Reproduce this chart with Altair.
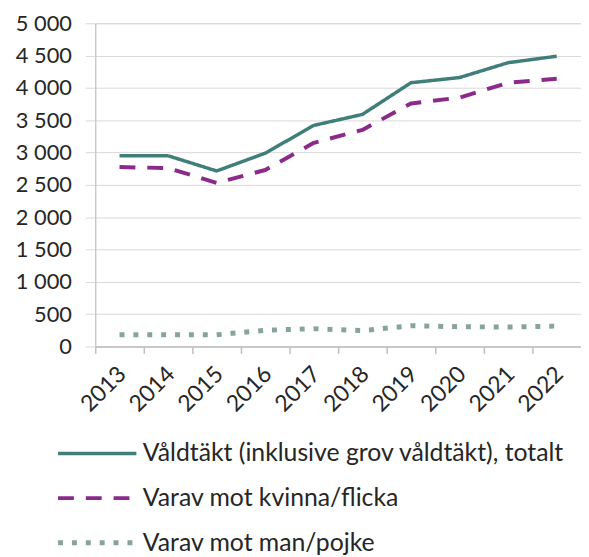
import altair as alt
import pandas as pd

years = ["2013", "2014", "2015", "2016", "2017", "2018", "2019", "2020", "2021", "2022"]
total = [2950, 2950, 2715, 2990, 3420, 3590, 4080, 4160, 4390, 4490]
female = [2775, 2760, 2530, 2730, 3150, 3350, 3760, 3850, 4080, 4140]
male = [180, 180, 180, 250, 275, 245, 320, 305, 300, 315]

series_names = [
    "Våldtäkt (inklusive grov våldtäkt), totalt",
    "Varav mot kvinna/flicka",
    "Varav mot man/pojke",
]
series_values = [total, female, male]
colors = ["#3f7e79", "#8b2a8b", "#86a497"]
dashes = [[1, 0], [16, 12], [5, 9]]
widths = [3.5, 4, 5]

rows = []
for name, vals in zip(series_names, series_values):
    for y, v in zip(years, vals):
        rows.append({"year": y, "value": v, "series": name})
df = pd.DataFrame(rows)

FONT = "Lato"
TXT = "#262626"

legend = alt.Legend(
    title=None,
    orient="none",
    legendX=-40,
    legendY=421,
    direction="vertical",
    symbolType="stroke",
    symbolSize=6241,
    clipHeight=26,
    rowPadding=19,
    labelFont=FONT,
    labelFontSize=25,
    labelColor=TXT,
    labelOffset=4,
    labelLimit=600,
    padding=0,
)

chart = (
    alt.Chart(df)
    .mark_line(strokeJoin="round")
    .encode(
        x=alt.X(
            "year:O",
            title=None,
            scale=alt.Scale(padding=0.5),
            axis=alt.Axis(
                labelAngle=-45,
                labelAlign="right",
                labelBaseline="middle",
                labelFont=FONT,
                labelFontSize=23,
                labelColor=TXT,
                labelPadding=17,
                tickSize=7,
                tickOffset=-24.5,
                labelOffset=27,
                tickColor="#bfbfbf",
                tickWidth=1.5,
                domainColor="#bfbfbf",
                domainWidth=1.5,
                grid=False,
            ),
        ),
        y=alt.Y(
            "value:Q",
            title=None,
            scale=alt.Scale(domain=[0, 5000]),
            axis=alt.Axis(
                values=[0, 500, 1000, 1500, 2000, 2500, 3000, 3500, 4000, 4500, 5000],
                labelExpr="replace(format(datum.value, ','), ',', ' ')",
                labelFont=FONT,
                labelFontSize=22,
                labelColor=TXT,
                labelPadding=14,
                tickSize=10,
                tickColor="#d9d9d9",
                domainColor="#bfbfbf",
                gridColor="#d9d9d9",
                gridWidth=1,
            ),
        ),
        color=alt.Color(
            "series:N",
            scale=alt.Scale(domain=series_names, range=colors),
            sort=series_names,
            legend=legend,
        ),
        strokeDash=alt.StrokeDash(
            "series:N",
            scale=alt.Scale(domain=series_names, range=dashes),
            sort=series_names,
            legend=legend,
        ),
        strokeWidth=alt.StrokeWidth(
            "series:N",
            scale=alt.Scale(type="ordinal", domain=series_names, range=widths),
            sort=series_names,
            legend=legend,
        ),
    )
    .properties(
        width=490,
        height=326,
        autosize=alt.AutoSizeParams(type="none"),
        padding={"left": 88, "top": 13, "right": 0, "bottom": 210},
    )
    .configure_view(stroke=None)
    .configure(font=FONT)
)

chart.save("out.html", embed_options={"renderer": "svg", "actions": False})
